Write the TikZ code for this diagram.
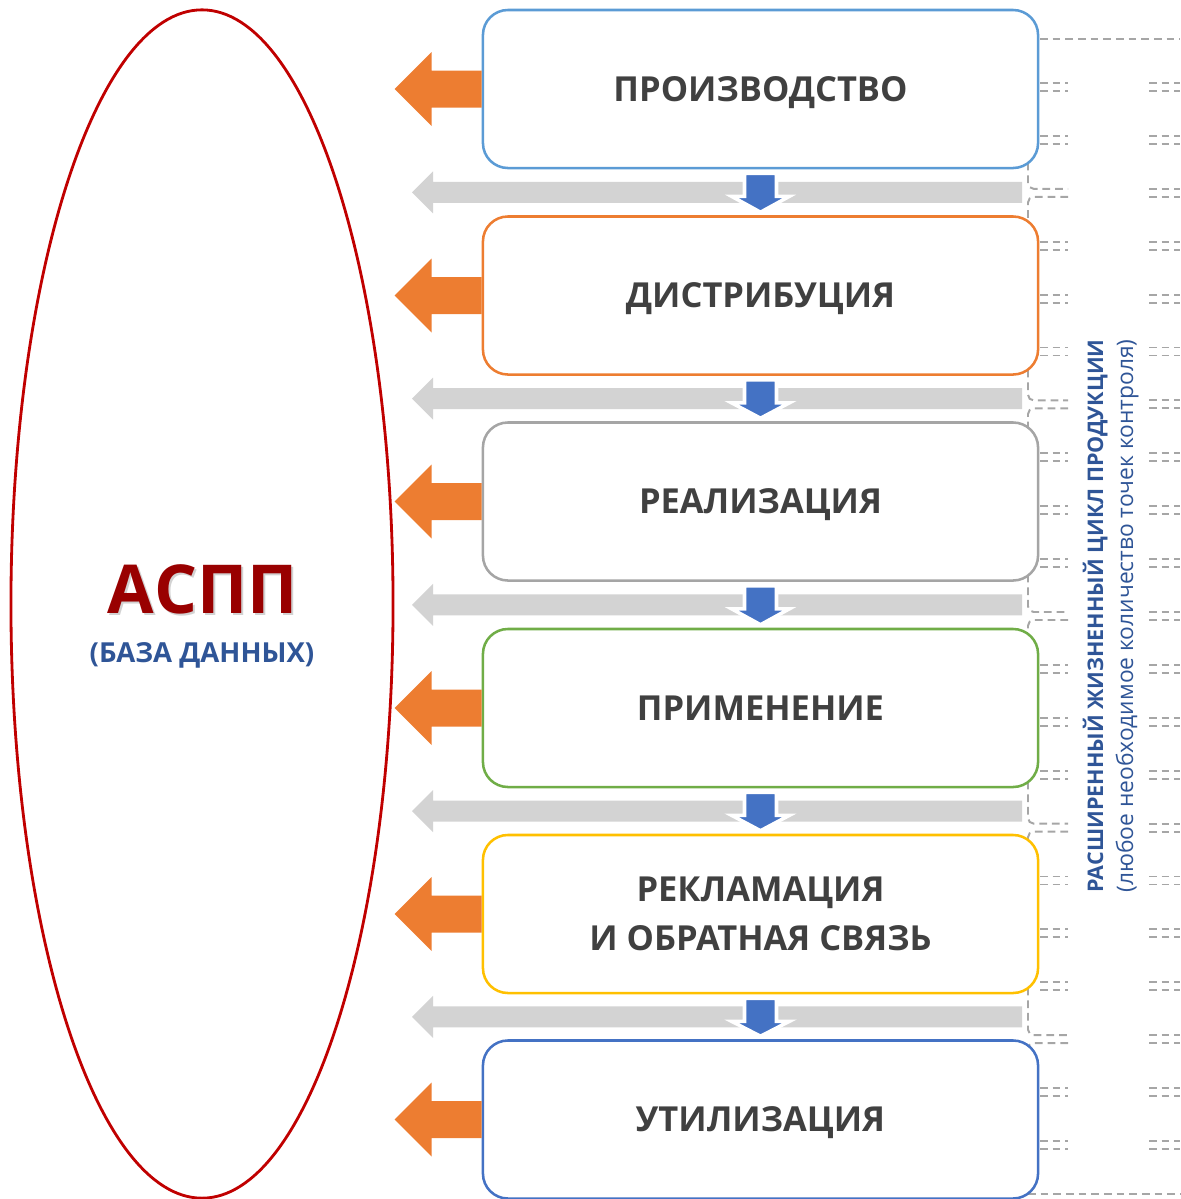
\documentclass[tikz,border=0pt]{standalone}
\usepackage{fontspec}
\setmainfont{Open Sans}
\usetikzlibrary{shapes.geometric,calc}

\definecolor{prodblue}{HTML}{5B9BD5}
\definecolor{distorange}{HTML}{ED7D31}
\definecolor{realgray}{HTML}{A5A5A5}
\definecolor{applgreen}{HTML}{70AD47}
\definecolor{claimgold}{HTML}{FFC000}
\definecolor{utilblue}{HTML}{4472C4}
\definecolor{flowgray}{HTML}{D3D3D3}
\definecolor{dbred}{HTML}{C00000}
\definecolor{titlered}{HTML}{990000}
\definecolor{labelblue}{HTML}{2F5597}
\definecolor{textgray}{HTML}{404040}
\definecolor{dashgray}{HTML}{A6A6A6}

\begin{document}
\begin{tikzpicture}[
  x=0.025cm, y=-0.025cm,
  stage/.style={draw, line width=1.8pt, fill=white, rounded corners=0.625cm,
                minimum width=13.875cm, minimum height=3.95cm, align=center,
                text height=17.5pt, text depth=0pt,
                text=textgray, font=\fontsize{24.5}{35}\selectfont\bfseries},
  outarrow/.style={fill=distorange},
  flowarrow/.style={fill=flowgray},
  downarrow/.style={fill=utilblue, draw=white, line width=2.5pt},
  guide/.style={draw=dashgray, line width=1.4pt, dash pattern=on 5.5pt off 3.5pt},
  vlabel/.style={rotate=90, anchor=base, text=labelblue},
]
\useasboundingbox (0,0) rectangle (1180,1199);

% Pointillés de droite
\draw[guide] (1040,39) -- (1180,39);
\draw[guide] (1028,1194) -- (1180,1194);
\foreach \k in {0,...,20}{
  \pgfmathsetmacro{\yk}{87+52.9*\k}
  \draw[guide] (1149,\yk-4) -- (1180,\yk-4) (1149,\yk+4) -- (1180,\yk+4);
}
\foreach \k in {0,1,3,4,5,7,8,9,11,12,13,15,16,17,19,20}{
  \pgfmathsetmacro{\yk}{87+52.9*\k}
  \draw[guide] (1040,\yk-4) -- (1068,\yk-4) (1040,\yk+4) -- (1068,\yk+4);
}
\foreach \k/\ya/\yb in {2/150/230, 6/357/437, 10/562/643, 14/769/849, 18/975/1055}{
  \pgfmathsetmacro{\yk}{87+52.9*\k}
  \draw[guide, rounded corners=4pt] (1028,\ya) -- (1028,\yk-4) -- (1068,\yk-4);
  \draw[guide, rounded corners=4pt] (1068,\yk+4) -- (1028,\yk+4) -- (1028,\yb);
}

% Étapes
\node[stage, draw=prodblue]   (prod)  at (760.5,89)   {ПРОИЗВОДСТВО};
\node[stage, draw=distorange] (dist)  at (760.5,295.5) {ДИСТРИБУЦИЯ};
\node[stage, draw=realgray]   (real)  at (760.5,501.5) {РЕАЛИЗАЦИЯ};
\node[stage, draw=applgreen]  (appl)  at (760.5,708)  {ПРИМЕНЕНИЕ};
\node[stage, draw=claimgold, text height=52.5pt] (claim) at (760.5,914) {РЕКЛАМАЦИЯ\\И ОБРАТНАЯ СВЯЗЬ};
\node[stage, draw=utilblue]   (util)  at (760.5,1119.5) {УТИЛИЗАЦИЯ};

% Flèches grises
\foreach \a/\b in {prod/dist, dist/real, real/appl, appl/claim, claim/util}{
  \path ($(\a.south)!0.5!(\b.north)$) coordinate (m);
  \fill[flowarrow] (m) ++(261.5,-10.5) -- ++(-589,0) -- ++(0,-10.5) -- ++(-21,21)
    -- ++(21,21) -- ++(0,-10.5) -- ++(589,0) -- cycle;
}

% Flèches vers la base
\foreach \b in {prod,dist,real,appl,claim,util}
  \fill[outarrow] (\b.west) ++(0,-18.5) -- ++(-50,0) -- ++(0,-18.5) -- ++(-37,37)
    -- ++(37,37) -- ++(0,-18.5) -- ++(50,0) -- cycle;

% Flèches entre étapes
\foreach \a/\b in {prod/dist, dist/real, real/appl, appl/claim, claim/util}
  \filldraw[downarrow] ($(\a.south)+(-16,4)$) -- ++(32,0) -- ++(0,23) -- ++(13,0)
    -- ($(\b.north)+(0,-3)$) -- ($(\a.south)+(-29,27)$) -- ++(13,0) -- cycle;

% Base de données
\node[ellipse, draw=dbred, line width=2pt, minimum width=9.55cm, minimum height=29.7cm] (aspp) at (202,604) {};
\node[anchor=base, text=black!35, opacity=0.5, font=\fontsize{48}{54}\selectfont\bfseries] at (205,615) {АСПП};
\node[anchor=base, text=titlered, font=\fontsize{48}{54}\selectfont\bfseries] (title) at (203,613) {АСПП};
\node[anchor=base, text=labelblue, font=\fontsize{19.6}{23}\selectfont\bfseries] (dbase) at (202,662) {(БАЗА ДАННЫХ)};

% Légende verticale
\node[vlabel, font=\fontsize{15.3}{19}\selectfont\bfseries] (cycle) at (1103,616) {РАСШИРЕННЫЙ ЖИЗНЕННЫЙ ЦИКЛ ПРОДУКЦИИ};
\node[vlabel, font=\fontsize{16.2}{20}\selectfont] (points) at (1133,616) {(любое необходимое количество точек контроля)};

\end{tikzpicture}
\end{document}
